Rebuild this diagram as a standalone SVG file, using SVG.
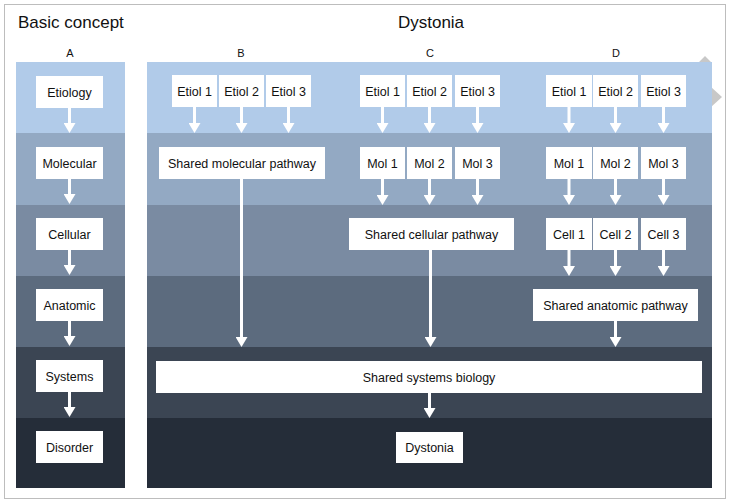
<svg xmlns="http://www.w3.org/2000/svg" width="729" height="504" viewBox="0 0 729 504">
<defs>
<style>
text{font-family:"Liberation Sans",Arial,sans-serif;fill:#111}
.title{font-size:17px}
.col{font-size:11px;text-anchor:middle}
.lbl{font-size:12.5px;text-anchor:middle}
.box{fill:#fff}
.arr{stroke:#fff;stroke-width:3;fill:none;marker-end:url(#ah)}
</style>
<marker id="ah" markerUnits="userSpaceOnUse" viewBox="0 0 10 12" markerWidth="10" markerHeight="12" refX="5" refY="6" orient="auto">
<path d="M0,0 L10,6 L0,12 z" fill="#fff"/>
</marker>
</defs>
<rect x="0" y="0" width="729" height="504" fill="#fff"/>
<rect x="4.5" y="4.5" width="721" height="494" fill="#fff" stroke="#bdbdbd" stroke-width="1"/>
<text class="title" x="18" y="28">Basic concept</text>
<text class="title" x="431" y="28" text-anchor="middle">Dystonia</text>
<text class="col" x="70" y="57">A</text>
<text class="col" x="241" y="57">B</text>
<text class="col" x="430" y="57">C</text>
<text class="col" x="616" y="57">D</text>
<polygon points="699,62 705,56 711,62 711,87 722,97 711,107 699,107" fill="#c8c8c8"/>
<g id="bands">
<rect x="16" y="62" width="109" height="71" fill="#b1cbe9"/>
<rect x="16" y="133" width="109" height="72" fill="#93a9c3"/>
<rect x="16" y="205" width="109" height="71" fill="#7a8ba2"/>
<rect x="16" y="276" width="109" height="71" fill="#5c6b7e"/>
<rect x="16" y="347" width="109" height="71" fill="#3b4553"/>
<rect x="16" y="418" width="109" height="70" fill="#252d39"/>
<rect x="147" y="62" width="565" height="71" fill="#b1cbe9"/>
<rect x="147" y="133" width="565" height="72" fill="#93a9c3"/>
<rect x="147" y="205" width="565" height="71" fill="#7a8ba2"/>
<rect x="147" y="276" width="565" height="71" fill="#5c6b7e"/>
<rect x="147" y="347" width="565" height="71" fill="#3b4553"/>
<rect x="147" y="418" width="565" height="70" fill="#252d39"/>
</g>
<g id="connectors">
<line class="arr" x1="69.5" y1="108" x2="69.5" y2="128"/>
<line class="arr" x1="69.5" y1="179" x2="69.5" y2="199"/>
<line class="arr" x1="69.5" y1="250" x2="69.5" y2="270"/>
<line class="arr" x1="69.5" y1="321" x2="69.5" y2="341"/>
<line class="arr" x1="69.5" y1="392" x2="69.5" y2="412"/>
<line class="arr" x1="194.5" y1="107" x2="194.5" y2="128"/>
<line class="arr" x1="241.5" y1="107" x2="241.5" y2="128"/>
<line class="arr" x1="288.5" y1="107" x2="288.5" y2="128"/>
<line class="arr" x1="241.5" y1="179" x2="241.5" y2="342"/>
<line class="arr" x1="382.5" y1="107" x2="382.5" y2="128"/>
<line class="arr" x1="429.5" y1="107" x2="429.5" y2="128"/>
<line class="arr" x1="477.5" y1="107" x2="477.5" y2="128"/>
<line class="arr" x1="382.5" y1="179" x2="382.5" y2="200"/>
<line class="arr" x1="429.5" y1="179" x2="429.5" y2="200"/>
<line class="arr" x1="477.5" y1="179" x2="477.5" y2="200"/>
<line class="arr" x1="430.5" y1="250" x2="430.5" y2="342"/>
<line class="arr" x1="569" y1="107" x2="569" y2="128"/>
<line class="arr" x1="615.5" y1="107" x2="615.5" y2="128"/>
<line class="arr" x1="663.5" y1="107" x2="663.5" y2="128"/>
<line class="arr" x1="569" y1="179" x2="569" y2="200"/>
<line class="arr" x1="615.5" y1="179" x2="615.5" y2="200"/>
<line class="arr" x1="663.5" y1="179" x2="663.5" y2="200"/>
<line class="arr" x1="569" y1="250" x2="569" y2="271"/>
<line class="arr" x1="615.5" y1="250" x2="615.5" y2="271"/>
<line class="arr" x1="663.5" y1="250" x2="663.5" y2="271"/>
<line class="arr" x1="615.5" y1="321" x2="615.5" y2="342"/>
<line class="arr" x1="429.5" y1="393" x2="429.5" y2="413"/>
</g>
<g id="a-etiology"><rect class="box" x="36" y="76" width="67" height="32"/><text class="lbl" x="69.5" y="96.5">Etiology</text></g>
<g id="a-molecular"><rect class="box" x="36" y="147" width="67" height="32"/><text class="lbl" x="69.5" y="167.5">Molecular</text></g>
<g id="a-cellular"><rect class="box" x="36" y="218" width="67" height="32"/><text class="lbl" x="69.5" y="238.5">Cellular</text></g>
<g id="a-anatomic"><rect class="box" x="36" y="289" width="67" height="32"/><text class="lbl" x="69.5" y="309.5">Anatomic</text></g>
<g id="a-systems"><rect class="box" x="36" y="360" width="67" height="32"/><text class="lbl" x="69.5" y="380.5">Systems</text></g>
<g id="a-disorder"><rect class="box" x="36" y="431" width="67" height="32"/><text class="lbl" x="69.5" y="451.5">Disorder</text></g>
<g id="b-etiol1"><rect class="box" x="172" y="75" width="45" height="32"/><text class="lbl" x="194.5" y="95.5">Etiol 1</text></g>
<g id="b-etiol2"><rect class="box" x="219" y="75" width="45" height="32"/><text class="lbl" x="241.5" y="95.5">Etiol 2</text></g>
<g id="b-etiol3"><rect class="box" x="266" y="75" width="45" height="32"/><text class="lbl" x="288.5" y="95.5">Etiol 3</text></g>
<g id="b-shared-mol"><rect class="box" x="159" y="147" width="166" height="32"/><text class="lbl" x="242" y="167.5">Shared molecular pathway</text></g>
<g id="c-etiol1"><rect class="box" x="360" y="75" width="45" height="32"/><text class="lbl" x="382.5" y="95.5">Etiol 1</text></g>
<g id="c-etiol2"><rect class="box" x="407" y="75" width="45" height="32"/><text class="lbl" x="429.5" y="95.5">Etiol 2</text></g>
<g id="c-etiol3"><rect class="box" x="455" y="75" width="45" height="32"/><text class="lbl" x="477.5" y="95.5">Etiol 3</text></g>
<g id="c-mol1"><rect class="box" x="360" y="147" width="45" height="32"/><text class="lbl" x="382.5" y="167.5">Mol 1</text></g>
<g id="c-mol2"><rect class="box" x="407" y="147" width="45" height="32"/><text class="lbl" x="429.5" y="167.5">Mol 2</text></g>
<g id="c-mol3"><rect class="box" x="455" y="147" width="45" height="32"/><text class="lbl" x="477.5" y="167.5">Mol 3</text></g>
<g id="c-shared-cell"><rect class="box" x="349" y="218" width="165" height="32"/><text class="lbl" x="431.5" y="238.5">Shared cellular pathway</text></g>
<g id="d-etiol1"><rect class="box" x="546" y="75" width="46" height="32"/><text class="lbl" x="569" y="95.5">Etiol 1</text></g>
<g id="d-etiol2"><rect class="box" x="593" y="75" width="45" height="32"/><text class="lbl" x="615.5" y="95.5">Etiol 2</text></g>
<g id="d-etiol3"><rect class="box" x="641" y="75" width="45" height="32"/><text class="lbl" x="663.5" y="95.5">Etiol 3</text></g>
<g id="d-mol1"><rect class="box" x="546" y="147" width="46" height="32"/><text class="lbl" x="569" y="167.5">Mol 1</text></g>
<g id="d-mol2"><rect class="box" x="593" y="147" width="45" height="32"/><text class="lbl" x="615.5" y="167.5">Mol 2</text></g>
<g id="d-mol3"><rect class="box" x="641" y="147" width="45" height="32"/><text class="lbl" x="663.5" y="167.5">Mol 3</text></g>
<g id="d-cell1"><rect class="box" x="546" y="218" width="46" height="32"/><text class="lbl" x="569" y="238.5">Cell 1</text></g>
<g id="d-cell2"><rect class="box" x="593" y="218" width="45" height="32"/><text class="lbl" x="615.5" y="238.5">Cell 2</text></g>
<g id="d-cell3"><rect class="box" x="641" y="218" width="45" height="32"/><text class="lbl" x="663.5" y="238.5">Cell 3</text></g>
<g id="d-shared-anat"><rect class="box" x="533" y="289" width="165" height="32"/><text class="lbl" x="615.5" y="309.5">Shared anatomic pathway</text></g>
<g id="shared-systems"><rect class="box" x="156" y="361" width="546" height="32"/><text class="lbl" x="429" y="381.5">Shared systems biology</text></g>
<g id="dystonia"><rect class="box" x="396" y="432" width="67" height="31"/><text class="lbl" x="429.5" y="452">Dystonia</text></g>
</svg>
